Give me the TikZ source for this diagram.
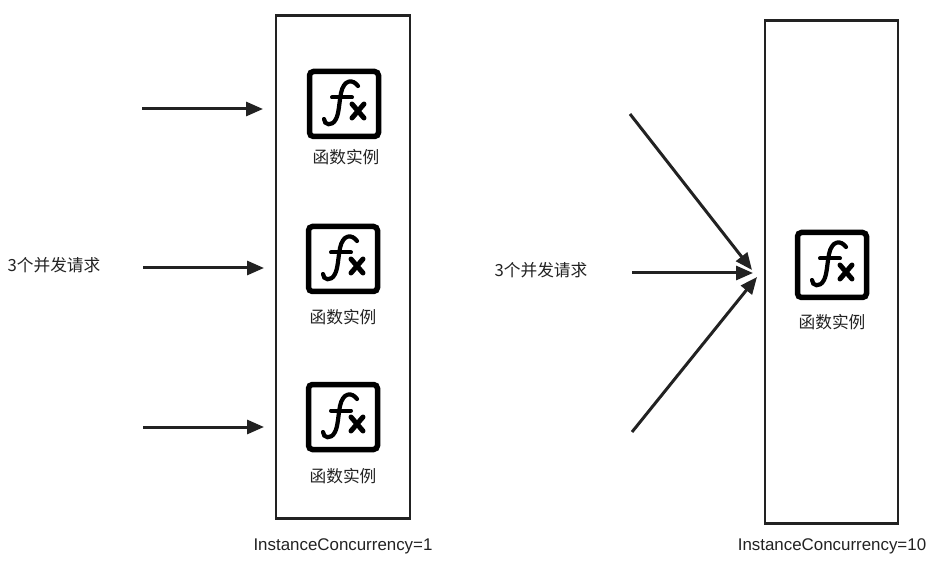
\documentclass[tikz,border=0pt]{standalone}
\usepackage{fontspec}
\setmainfont{Liberation Sans}
\newfontfamily\cjk{Noto Sans CJK SC}
\usetikzlibrary{arrows.meta}
\definecolor{ink}{HTML}{222222}
\tikzset{
  x=1pt,y=-1pt,
  panel/.style={draw=ink,line width=2.2pt,fill=white},
  flow/.style={draw=ink,line width=3pt,-{Triangle[length=17pt,width=14pt]},shorten >=0pt},
  captext/.style={font=\fontsize{16.7}{19}\selectfont\cjk,text=ink,inner sep=0pt,anchor=center},
  conc/.style={font=\fontsize{16.9}{19}\selectfont,text=ink,inner sep=0pt,anchor=center},
  pics/fxicon/.style={code={
    \draw[black,line width=5.5pt,rounded corners=4pt] (-34.5,-32.5) rectangle (34.5,32.5);
    \draw[black,line width=4.2pt,line cap=round] (14,-18) .. controls (9,-25) and (0,-25) .. (-3,-11)
       .. controls (-5,0) and (-5,9) .. (-8,15) .. controls (-12,23) and (-20,21) .. (-20,15);
    \draw[black,line width=4pt,line cap=round] (-12,-6.5) -- (8,-6.5);
    \draw[black,line width=5pt,line cap=round] (8,0) -- (20,14) (20,0) -- (8,14);
  }}
}
\begin{document}
\begin{tikzpicture}
\useasboundingbox (0,0) rectangle (946,572);
\node[panel,minimum width=133.5pt,minimum height=503pt,inner sep=0pt] (left) at (343,267) {};
\node[panel,minimum width=132.5pt,minimum height=503pt,inner sep=0pt] (right) at (831.5,272) {};
\pic at (344,104) {fxicon};
\pic at (343,259) {fxicon};
\pic at (343,417) {fxicon};
\pic at (832,265) {fxicon};
\node[captext] (c1) at (346,157) {函数实例};
\node[captext] (c2) at (343,317) {函数实例};
\node[captext] (c3) at (343,476) {函数实例};
\node[captext] (c4) at (832,322) {函数实例};
\node[captext] (r1) at (54,265) {3个并发请求};
\node[captext] (r2) at (541,270) {3个并发请求};
\node[conc] (l1) at (343,546) {InstanceConcurrency=1};
\node[conc] (l2) at (832,546) {InstanceConcurrency=10};
\coordinate (a1) at (142,109); \coordinate (b1) at (263,109);
\coordinate (a2) at (143,268); \coordinate (b2) at (264,268);
\coordinate (a3) at (143,427); \coordinate (b3) at (264,427);
\coordinate (d1) at (630,114); \coordinate (e1) at (752,270);
\coordinate (d2) at (632,273); \coordinate (e2) at (753,273);
\coordinate (d3) at (632,432); \coordinate (e3) at (757,277);
\draw[flow] (a1) -- (b1);
\draw[flow] (a2) -- (b2);
\draw[flow] (a3) -- (b3);
\draw[flow] (d1) -- (e1);
\draw[flow] (d2) -- (e2);
\draw[flow] (d3) -- (e3);
\end{tikzpicture}
\end{document}
